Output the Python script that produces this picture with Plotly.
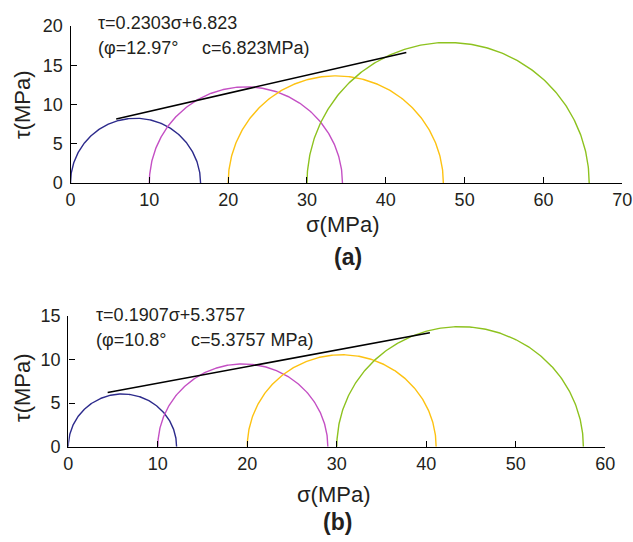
import numpy as np
import plotly.graph_objects as go

# ---------------- data ----------------
# (a)
sigma3_a = [0, 10, 20, 30]
sigma1_a = [16.5, 34.5, 47.3, 65.8]
slope_a, intercept_a = 0.2303, 6.823
env_range_a = [5.8, 42.6]
eq_a = "τ=0.2303σ+6.823"
phi_a = "(φ=12.97°"
c_a = "c=6.823MPa)"

# (b)
sigma3_b = [0, 10, 20, 30]
sigma1_b = [12.1, 29.0, 41.1, 57.55]
slope_b, intercept_b = 0.1907, 5.3757
env_range_b = [4.4, 40.4]
eq_b = "τ=0.1907σ+5.3757"
phi_b = "(φ=10.8°"
c_b = "c=5.3757 MPa)"

colors = ["#2d2b8c", "#c450c4", "#fdc212", "#8dc21f"]
xticks_a = [0, 10, 20, 30, 40, 50, 60, 70]
yticks_a = [0, 5, 10, 15, 20]
xticks_b = [0, 10, 20, 30, 40, 50, 60]
yticks_b = [0, 5, 10, 15]

FONT = "Liberation Sans, Arial, Helvetica, sans-serif"
TXT = "#231f20"

fig = go.Figure()
theta = np.linspace(0, np.pi, 241)


def add_panel(s3, s1, slope, icpt, rng, xa, ya):
    for lo, hi, col in zip(s3, s1, colors):
        c = (lo + hi) / 2.0
        r = (hi - lo) / 2.0
        fig.add_trace(go.Scatter(
            x=c + r * np.cos(theta), y=r * np.sin(theta), mode="lines",
            line=dict(color=col, width=1.4), xaxis=xa, yaxis=ya,
            showlegend=False, hoverinfo="skip", cliponaxis=False))
    xs = np.array(rng)
    fig.add_trace(go.Scatter(
        x=xs, y=slope * xs + icpt, mode="lines",
        line=dict(color="black", width=1.5), xaxis=xa, yaxis=ya,
        showlegend=False, hoverinfo="skip", cliponaxis=False))


add_panel(sigma3_a, sigma1_a, slope_a, intercept_a, env_range_a, "x", "y")
add_panel(sigma3_b, sigma1_b, slope_b, intercept_b, env_range_b, "x2", "y2")

W, H = 633, 542


def px(v):
    return v / W


def py(v):
    return 1 - v / H


axis_common = dict(
    showline=True, linecolor="black", linewidth=1.4,
    ticks="inside", ticklen=6, tickwidth=1.4, tickcolor="black",
    showgrid=False, zeroline=False, mirror=False, automargin=False,
    tickfont=dict(family=FONT, size=18, color=TXT),
)

fig.update_layout(
    width=W, height=H,
    margin=dict(l=0, r=0, t=0, b=0, pad=0),
    paper_bgcolor="white", plot_bgcolor="white",
    xaxis=dict(domain=[px(70.5), px(622.3)], range=[0, 70], anchor="y",
               tickvals=xticks_a, **axis_common),
    yaxis=dict(domain=[py(183), py(26)], range=[0, 20], anchor="x",
               tickvals=yticks_a, ticklabelstandoff=3, **axis_common),
    xaxis2=dict(domain=[px(68.3), px(605.3)], range=[0, 60], anchor="y2",
                tickvals=xticks_b, **axis_common),
    yaxis2=dict(domain=[py(446.7), py(316)], range=[0, 15], anchor="x2",
                tickvals=yticks_b, ticklabelstandoff=3, **axis_common),
)

ann = []


def text(x, y, s, size=18, bold=False, xanchor="center", angle=0):
    ann.append(dict(
        x=px(x), y=py(y), xref="paper", yref="paper", text=("<b>%s</b>" % s if bold else s),
        showarrow=False, xanchor=xanchor, yanchor="middle", textangle=angle,
        font=dict(family=FONT, size=size, color=TXT)))


# panel (a)
text(96, 23.3, eq_a, xanchor="left")
text(96, 47.7, phi_a, xanchor="left")
text(200, 47.7, c_a, xanchor="left")
text(342, 224.3, "σ(MPa)", size=22)
text(348, 257, "(a)", size=23, bold=True)
text(22, 105, "τ(MPa)", size=22, angle=-90)

# panel (b)
text(94, 315, eq_b, xanchor="left")
text(94, 340, phi_b, xanchor="left")
text(189, 340, c_b, xanchor="left")
text(333, 494.3, "σ(MPa)", size=22)
text(337, 521.7, "(b)", size=23, bold=True)
text(22, 388, "τ(MPa)", size=22, angle=-90)

fig.update_layout(annotations=ann)

fig.write_html("out.html")
